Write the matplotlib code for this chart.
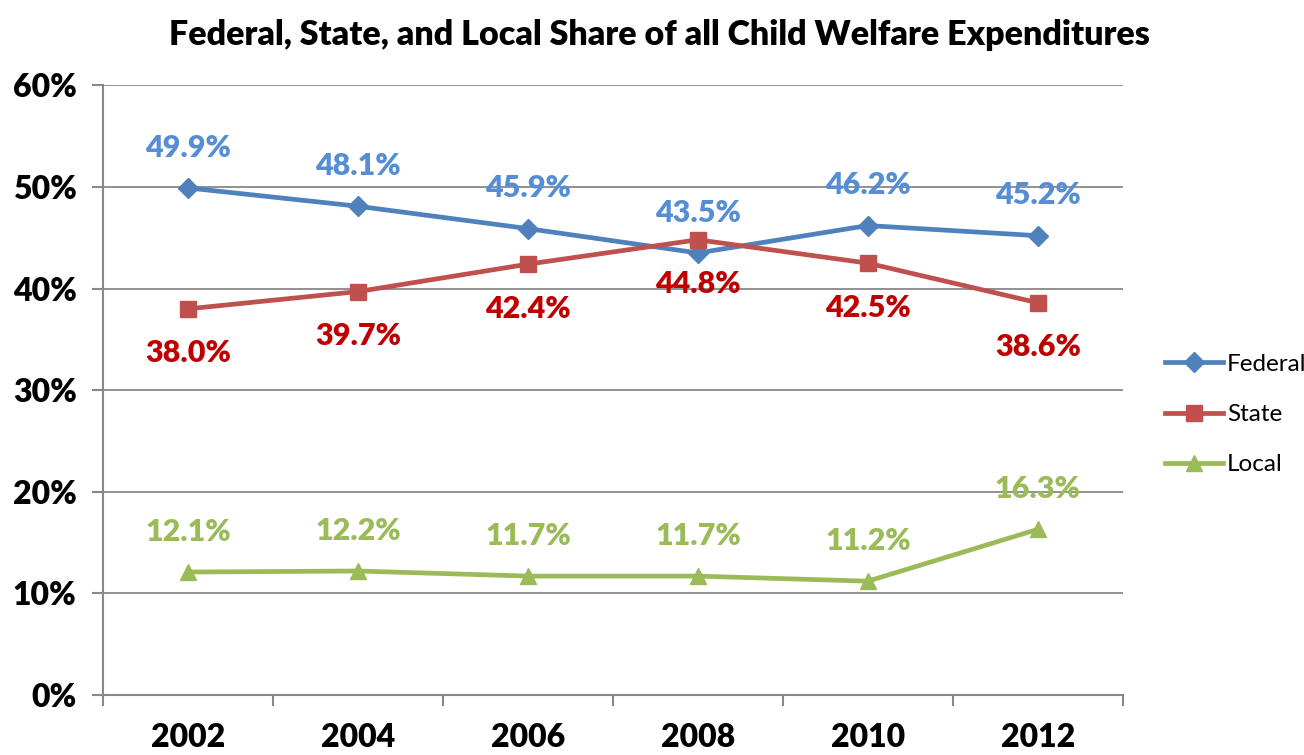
import matplotlib.pyplot as plt

plt.rcParams['font.family'] = ['Lato', 'DejaVu Sans']

years = ['2002', '2004', '2006', '2008', '2010', '2012']
federal = [49.9, 48.1, 45.9, 43.5, 46.2, 45.2]
state = [38.0, 39.7, 42.4, 44.8, 42.5, 38.6]
local = [12.1, 12.2, 11.7, 11.7, 11.2, 16.3]

fig = plt.figure(figsize=(13.04, 7.55), dpi=100)
ax = fig.add_axes([0.079, 0.0795, 0.782, 0.8075])

x = list(range(len(years)))
ax.plot(x, federal, color='#4F81BD', lw=3.4, marker='D', ms=10, label='Federal', zorder=3)
ax.plot(x, state, color='#C0504D', lw=3.4, marker='s', ms=12, label='State', zorder=3)
ax.plot(x, local, color='#9BBB59', lw=3.4, marker='^', ms=12, label='Local', zorder=3)

# data labels
for i in x:
    ax.annotate('{:.1f}%'.format(federal[i]), (i, federal[i]), xytext=(0, 29),
                textcoords='offset points', ha='center', va='center',
                fontsize=22, fontweight='heavy', color='#558ED5')
    ax.annotate('{:.1f}%'.format(state[i]), (i, state[i]), xytext=(0, -32),
                textcoords='offset points', ha='center', va='center',
                fontsize=22, fontweight='heavy', color='#C00000')
    ax.annotate('{:.1f}%'.format(local[i]), (i, local[i]), xytext=(0, 29),
                textcoords='offset points', ha='center', va='center',
                fontsize=22, fontweight='heavy', color='#9BBB59')

ax.set_xlim(-0.5, 5.5)
ax.set_ylim(0, 60)
ax.set_yticks(range(0, 61, 10))
ax.set_yticklabels(['{}%'.format(v) for v in range(0, 61, 10)])
ax.set_xticks(x)
ax.set_xticklabels(years)
ax.set_xticks([i - 0.5 for i in range(len(years) + 1)], minor=True)

ax.tick_params(axis='x', which='major', length=0, pad=20, labelsize=23)
ax.tick_params(axis='x', which='minor', length=8, width=1.5, color='#888888', direction='out')
ax.tick_params(axis='y', length=8, width=1.5, color='#888888', pad=11, labelsize=23)
for lbl in ax.get_xticklabels() + ax.get_yticklabels():
    lbl.set_fontweight('heavy')

ax.grid(axis='y', color='#888888', lw=1.3)
ax.set_axisbelow(True)
for s in ['top', 'right']:
    ax.spines[s].set_visible(False)
for s in ['left', 'bottom']:
    ax.spines[s].set_color('#888888')
    ax.spines[s].set_linewidth(1.5)

fig.suptitle('Federal, State, and Local Share of all Child Welfare Expenditures',
             x=0.506, y=0.975, fontsize=24.5, fontweight='heavy')

ax.legend(loc='center left', bbox_to_anchor=(1.02, 0.46), frameon=False,
          fontsize=17.5, handlelength=2.4, labelspacing=1.2, handletextpad=0.15)

fig.savefig('out.png', dpi=100)
